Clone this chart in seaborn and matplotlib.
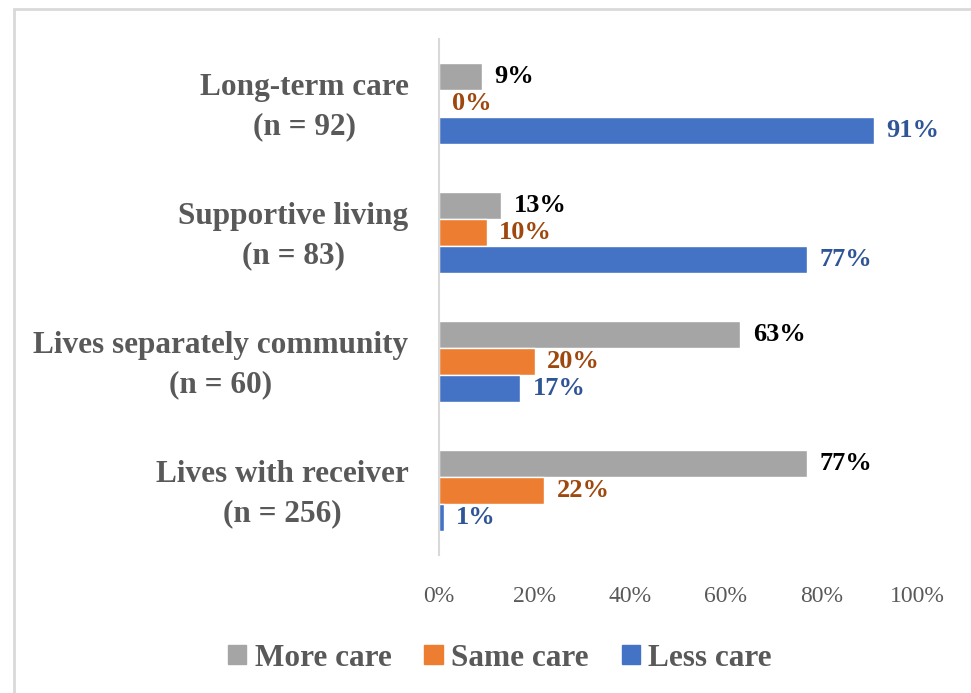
import matplotlib
matplotlib.use("Agg")
import matplotlib.pyplot as plt
import matplotlib.patches as mpatches
import matplotlib.transforms as mtransforms
import seaborn as sns
import pandas as pd

categories = ["Long-term care\n(n = 92)", "Supportive living\n(n = 83)",
              "Lives separately community\n(n = 60)", "Lives with receiver\n(n = 256)"]
series = ["More care", "Same care", "Less care"]
more_care = [9, 13, 63, 77]
same_care = [0, 10, 20, 22]
less_care = [91, 77, 17, 1]
x_ticks = [0, 20, 40, 60, 80, 100]
x_tick_labels = ["0%", "20%", "40%", "60%", "80%", "100%"]

bar_colors = ["#A5A5A5", "#ED7D31", "#4472C4"]
label_colors = ["#000000", "#9E480E", "#2F5597"]
text_gray = "#595959"

rows = []
for s, vals in zip(series, [more_care, same_care, less_care]):
    for c, v in zip(categories, vals):
        rows.append({"category": c, "series": s, "value": v})
df = pd.DataFrame(rows)

sns.set_style("white")
plt.rcParams["font.family"] = ["Liberation Serif", "DejaVu Serif"]

fig = plt.figure(figsize=(9.71, 6.93), dpi=100)
ax = fig.add_axes([439/971, 1-555/693, (917-439)/971, (555-39)/693])

sns.barplot(data=df, x="value", y="category", hue="series", order=categories,
            hue_order=series, palette=bar_colors, saturation=1, width=0.63,
            orient="h", legend=False, ax=ax)

for cont, col, vals in zip(ax.containers, label_colors, [more_care, same_care, less_care]):
    ax.bar_label(cont, labels=[f"{v}%" for v in vals], padding=9, color=col,
                 fontsize=19, fontweight="bold")

ax.set_xlim(0, 100)
ax.set_xticks(x_ticks)
ax.set_xticklabels(x_tick_labels, fontsize=17, color=text_gray)
ax.set_yticks(range(len(categories)))
ax.set_yticklabels(categories, fontsize=22.5, fontweight="bold", color=text_gray,
                   multialignment="center", linespacing=1.45)
ax.tick_params(axis="x", length=0, pad=22)
ax.tick_params(axis="y", length=0, pad=22)
shift = mtransforms.ScaledTranslation(0, 5/100, fig.dpi_scale_trans)
for lab in ax.get_yticklabels():
    lab.set_transform(lab.get_transform() + shift)
ax.set_xlabel("")
ax.set_ylabel("")
for side in ["top", "right", "bottom"]:
    ax.spines[side].set_visible(False)
ax.spines["left"].set_color("#D9D9D9")
ax.spines["left"].set_linewidth(1.5)
ax.grid(False)

handles = [mpatches.Patch(color=c, label=s) for c, s in zip(bar_colors, series)]
leg = fig.legend(handles=handles, loc="center", bbox_to_anchor=(500/971, 1-658/693),
                 ncol=3, frameon=False, handlelength=0.58, handleheight=0.58,
                 handletextpad=0.28, columnspacing=1.05,
                 prop={"size": 22.5, "weight": "bold"})
for t in leg.get_texts():
    t.set_color(text_gray)

border = mpatches.Rectangle((14/971, -0.1), 1.2, 1-9/693+0.1, transform=fig.transFigure,
                            fill=False, edgecolor="#D9D9D9", linewidth=2)
fig.patches.append(border)

fig.savefig("out.png", dpi=100)
